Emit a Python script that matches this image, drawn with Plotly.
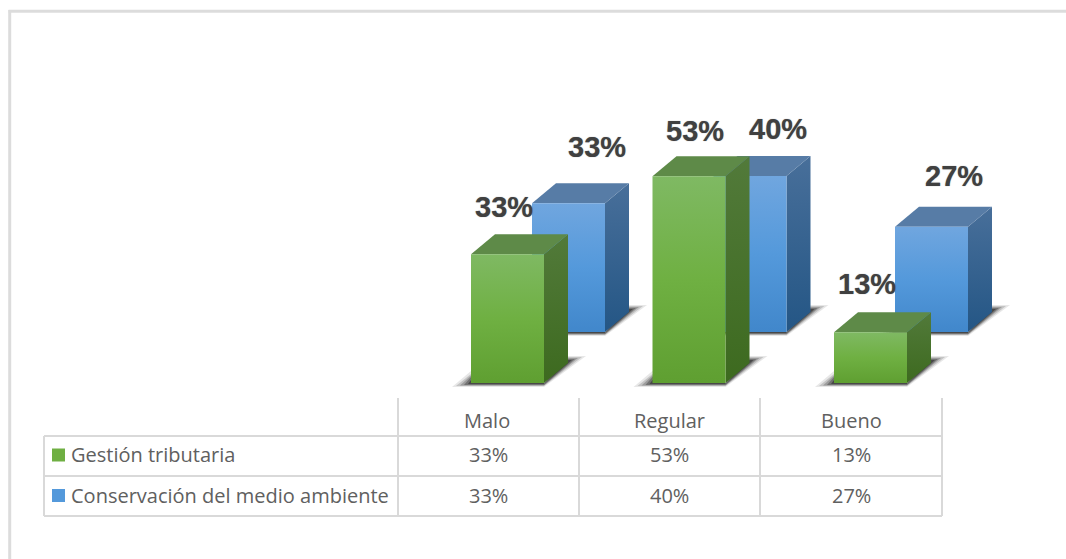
import plotly.graph_objects as go

# Survey results, in percent
categories = ["Malo", "Regular", "Bueno"]
gestion_tributaria = [33, 53, 13]
conservacion_ambiente = [33, 40, 27]
series_names = ["Gestión tributaria", "Conservación del medio ambiente"]

# Canvas and scale
W, H = 1066, 559
CAT_PX = 181.5        # pixels per category step
PCT_PX = 3.9          # pixels per percentage point
ORIGIN_X = 507.5      # pixel centre of the first front column
ORIGIN_Y = 383.0      # pixel row of the front floor

# Column geometry, in pixels
BAR_W = 73
DEPTH_X, DEPTH_Y = 24, 20
BACK_X, BACK_Y = 61, 51   # offset of the rear row from the front row


def ux(px):
    return px / CAT_PX


def uy(px):
    return px / PCT_PX


def polygon(fig, pts, fill=None, grad=None):
    xs = [p[0] for p in pts] + [pts[0][0]]
    ys = [p[1] for p in pts] + [pts[0][1]]
    kw = dict(x=xs, y=ys, mode="lines", fill="toself", line=dict(width=0),
              hoverinfo="skip", showlegend=False)
    if grad:
        low, high, scale = grad
        kw["fillgradient"] = dict(type="vertical", start=low, stop=high, colorscale=scale)
    else:
        kw["fillcolor"] = fill
    fig.add_trace(go.Scatter(**kw))


def floor_shadow(fig, cx, base):
    # Stacked translucent slabs give the soft cast shadow on the floor
    half = ux(BAR_W / 2)
    left, right = cx - half, cx + half
    for tip, top, low, reach, alpha in [(42, 27, 4, 19, 0.10), (38, 26, 3, 15, 0.16),
                                        (34, 25, 2.5, 11, 0.22), (31, 24, 2, 7, 0.30),
                                        (28, 23, 1, 3, 0.42)]:
        polygon(fig, [
            (right, base - uy(low)),
            (right + ux(tip), base + uy(top)),
            (right + ux(DEPTH_X), base + uy(top)),
            (right, base),
        ], fill=f"rgba(15,15,15,{alpha})")
        polygon(fig, [
            (left - ux(reach), base - uy(low)),
            (right, base - uy(low)),
            (right, base),
            (left, base + uy(low * 3)),
        ], fill=f"rgba(15,15,15,{alpha})")


def column(fig, cx, base, value, front, side, top):
    half = ux(BAR_W / 2)
    ddx, ddy = ux(DEPTH_X), uy(DEPTH_Y)
    y1 = base + value
    polygon(fig, [(cx + half, base), (cx + half + ddx, base + ddy),
                  (cx + half + ddx, y1 + ddy), (cx + half, y1)],
            grad=(base, y1 + ddy, side))
    polygon(fig, [(cx - half, y1), (cx + half, y1),
                  (cx + half + ddx, y1 + ddy), (cx - half + ddx, y1 + ddy)],
            fill=top)
    polygon(fig, [(cx - half, base), (cx + half, base),
                  (cx + half, y1), (cx - half, y1)],
            grad=(base, y1, front))


GREEN_FRONT = [[0, "#5F9F31"], [0.5, "#6FB042"], [1, "#7FB963"]]
GREEN_SIDE = [[0, "#3D6A1F"], [1, "#527A3A"]]
GREEN_TOP = "#5E8A48"
BLUE_FRONT = [[0, "#4187CB"], [0.5, "#5499DB"], [1, "#70A6DF"]]
BLUE_SIDE = [[0, "#245685"], [1, "#486F9A"]]
BLUE_TOP = "#577CA6"
GRID = "#D9D9D9"
TEXT = "#606060"

fig = go.Figure()

back_floor = uy(BACK_Y)
back_x = ux(BACK_X)

# Rear row first, so the front row overlaps it
for i, v in enumerate(conservacion_ambiente):
    floor_shadow(fig, i + back_x, back_floor)
for i, v in enumerate(conservacion_ambiente):
    column(fig, i + back_x, back_floor, v, BLUE_FRONT, BLUE_SIDE, BLUE_TOP)
for i, v in enumerate(gestion_tributaria):
    floor_shadow(fig, i, 0)
for i, v in enumerate(gestion_tributaria):
    column(fig, i, 0, v, GREEN_FRONT, GREEN_SIDE, GREEN_TOP)

# Value labels above the columns; each keeps its own pixel nudge (right, up)
front_nudge = [(-4, 47), (6, 45), (-4, 48)]
back_nudge = [(28.5, 56), (27.5, 47), (22.5, 51)]
annotations = []
label_font = dict(family="Liberation Sans", size=29, color="#404040", weight="bold",
                  shadow="0 0 1px rgba(64,64,64,0.6)")
for i, (v, (nx, ny)) in enumerate(zip(gestion_tributaria, front_nudge)):
    annotations.append(dict(x=i, y=v, xref="x", yref="y", text=f"{v}%", showarrow=False,
                            xshift=nx, yshift=ny, font=label_font))
for i, (v, (nx, ny)) in enumerate(zip(conservacion_ambiente, back_nudge)):
    annotations.append(dict(x=i + back_x, y=back_floor + v, xref="x", yref="y", text=f"{v}%",
                            showarrow=False, xshift=nx, yshift=ny, font=label_font))

# Data table under the plot
col_edges = [398, 579, 760, 942]
row_edges = [436, 476, 516]
table_top = 398
table_left = 44
table_font = dict(family="Open Sans", size=20, color=TEXT)
shapes = []


def px_x(x):
    return x / W


def px_y(y):
    return 1 - y / H


def rule(x0, y0, x1, y1, width=2, color=GRID):
    shapes.append(dict(type="line", xref="paper", yref="paper", x0=px_x(x0), x1=px_x(x1),
                       y0=px_y(y0), y1=px_y(y1), line=dict(color=color, width=width)))


for x in col_edges:
    rule(x, table_top, x, row_edges[-1])
rule(table_left, row_edges[0], table_left, row_edges[-1])
for y in row_edges:
    rule(table_left, y, col_edges[-1], y)

# Outer chart frame, open towards the right and bottom
rule(8.5, 11.3, W, 11.3, width=3, color="#DCDCDC")
rule(9.7, 10, 9.7, H, width=3, color="#DCDCDC")


def cell(px, py, text, anchor="center"):
    annotations.append(dict(x=px_x(px), y=px_y(py), xref="paper", yref="paper", text=text,
                            showarrow=False, xanchor=anchor, yanchor="middle", font=table_font))


header_y = 420
centers = [(col_edges[i] + col_edges[i + 1]) / 2 for i in range(3)]
header_nudge = [-2, 0, 0]
for c, n, name in zip(centers, header_nudge, categories):
    cell(c + n, header_y, name)
for row_y, values, name, key in [(454.5, gestion_tributaria, series_names[0], "#6FAF42"),
                                 (495, conservacion_ambiente, series_names[1], "#5499DB")]:
    cell(69, row_y, name, anchor="left")
    shapes.append(dict(type="rect", xref="paper", yref="paper", x0=px_x(52), x1=px_x(65),
                       y0=px_y(row_y - 6), y1=px_y(row_y + 7),
                       fillcolor=key, line=dict(width=0)))
    for c, v in zip(centers, values):
        cell(c, row_y, f"{v}%")

fig.update_layout(
    width=W, height=H, autosize=False,
    margin=dict(l=0, r=0, t=0, b=0),
    paper_bgcolor="white", plot_bgcolor="white",
    showlegend=False,
    xaxis=dict(range=[-ORIGIN_X / CAT_PX, (W - ORIGIN_X) / CAT_PX], visible=False, fixedrange=True),
    yaxis=dict(range=[-(H - ORIGIN_Y) / PCT_PX, ORIGIN_Y / PCT_PX], visible=False, fixedrange=True),
    annotations=annotations, shapes=shapes,
)

fig.write_html("out.html", config=dict(displayModeBar=False))
